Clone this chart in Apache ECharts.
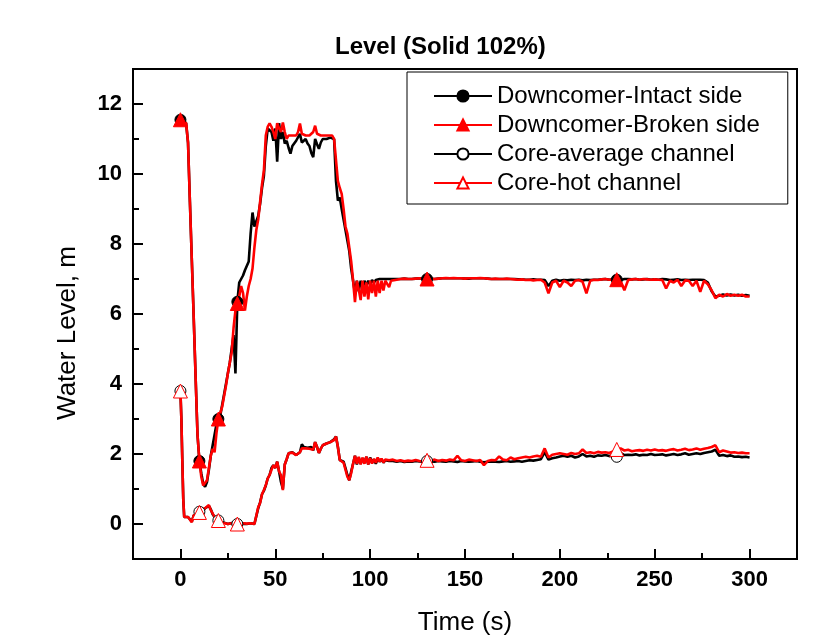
<!DOCTYPE html>
<html><head><meta charset="utf-8">
<script src="https://cdn.jsdelivr.net/npm/echarts@6/dist/echarts.min.js"></script>
<style>html,body{margin:0;padding:0;background:#fff}#c{width:836px;height:644px}</style>
</head><body><div id="c"></div>
<script>
const time = [0,0.5,1,1.5,2,
3,4,5,6,7,8,9,10,11,12,
13,14,15,16,17,18,19,20,21,22,
23,24,25,26,27,28,29,30,31,32,
33,34,35,36,37,38,39,40,41,42,
43,44,45,46,47,48,49,50,51,52,
53,54,55,56,57,58,59,60,61,62,
63,64,65,66,67,68,69,70,71,72,
73,74,75,76,77,78,79,80,81,82,
83,84,85,86,87,88,89,90,91,92,
93,94,95,96,97,98,99,100,101,102,
103,104,105,106,107,108,109,110,111,112,
114,116,118,120,122,124,126,128,130,132,
134,136,138,140,142,144,146,148,150,152,
154,156,158,160,162,164,166,168,170,172,
174,176,178,180,182,184,186,188,190,192,
194,196,198,200,202,204,206,208,210,212,
214,216,218,220,222,224,226,228,230,232,
234,236,238,240,242,244,246,248,250,252,
254,256,258,260,262,264,266,268,270,272,
274,276,278,280,282,284,286,288,290,292,
294,296,298,300];

const downcomerIntact = [11.55,11.56,11.55,11.52,11.5,
11.45,10.9,9.2,7.55,5.9,4.2,2.55,1.8,1.45,1.15,
1.06,1.2,1.55,1.95,2.25,2.55,2.85,3.0,3.1,3.4,
3.7,4.0,4.3,4.6,5.0,5.4,4.3,6.35,6.9,7.0,
7.1,7.25,7.3,7.5,8.3,8.9,8.5,8.45,8.8,9.15,
9.6,9.95,10.8,11.3,11.35,11.2,10.95,11.3,10.35,11.45,
11.0,11.2,10.87,10.95,10.75,10.58,10.8,10.8,10.95,11.0,
11.15,10.9,10.85,11.0,10.87,10.8,10.6,10.48,11.0,10.85,
10.72,10.9,11.0,11.02,11.0,11.0,11.04,11.04,11.0,9.8,
9.24,9.33,9.0,8.7,8.4,8.1,7.8,7.3,6.95,6.6,
6.95,6.65,6.95,6.75,6.95,6.8,6.95,6.85,6.97,6.9,
6.97,6.95,7.0,6.96,7.0,6.98,7.0,6.97,7.0,7.0,
7.0,7.0,7.01,7.0,7.0,7.01,7.02,7.0,7.0,7.0,
7.0,7.01,7.02,7.02,7.02,7.02,7.02,7.02,7.01,7.01,
7.02,7.02,7.02,7.02,7.01,7.0,7.0,7.0,7.0,7.0,
7.0,7.0,6.99,6.99,6.98,6.98,6.99,6.98,6.98,6.97,
6.8,6.95,6.98,6.95,6.97,6.96,6.98,6.97,6.98,6.96,
6.98,6.97,6.98,6.98,6.99,7.0,6.98,6.99,6.98,6.97,
7.0,7.0,6.99,7.0,6.98,6.99,7.0,6.98,6.99,6.98,
7.0,6.99,6.97,6.98,6.99,6.97,6.98,6.97,6.98,6.98,
6.98,6.97,6.9,6.65,6.5,6.52,6.56,6.53,6.56,6.53,
6.55,6.52,6.54,6.52];

const downcomerBroken = [11.55,11.56,11.55,11.52,11.5,
11.45,10.9,9.2,7.55,5.9,4.2,2.55,1.8,1.35,1.1,
1.06,1.25,1.6,1.95,2.15,2.05,2.6,3.0,3.05,3.35,
3.65,3.95,4.3,4.6,4.9,5.6,6.1,6.3,6.5,6.8,
6.6,6.1,6.5,6.8,7.0,7.3,7.9,8.4,8.7,9.2,
9.7,10.1,11.1,11.35,11.45,11.35,11.2,11.0,11.45,11.3,
11.2,11.47,11.2,11.0,11.1,11.05,11.1,11.1,11.1,11.2,
11.44,11.15,11.1,11.1,11.15,11.1,11.1,11.2,11.38,11.15,
11.1,11.1,11.1,11.1,11.12,11.1,11.1,11.1,11.0,10.4,
9.8,9.6,9.43,9.0,8.5,8.3,7.9,7.5,6.96,6.34,
6.95,6.7,6.4,6.95,6.5,6.9,6.42,6.95,6.6,6.95,
6.5,6.95,6.6,6.95,6.67,6.95,6.98,6.77,6.95,7.0,
6.98,7.0,7.01,7.0,7.0,7.01,7.02,7.0,7.0,7.01,
7.0,7.01,7.02,7.03,7.02,7.03,7.02,7.02,7.01,7.02,
7.02,7.02,7.03,7.02,7.01,7.0,7.01,7.0,7.0,7.01,
7.0,6.99,6.98,6.99,6.97,6.98,6.96,6.97,6.98,6.9,
6.59,6.9,6.95,6.77,6.95,6.9,6.8,6.95,6.97,6.92,
6.59,6.95,6.98,6.97,6.99,7.0,6.98,6.99,6.98,6.95,
6.68,6.97,6.99,7.0,6.98,7.0,6.99,6.98,6.99,6.98,
6.97,6.73,6.95,6.9,6.98,6.8,6.96,6.95,6.8,6.95,
6.63,6.95,6.85,6.68,6.45,6.55,6.5,6.57,6.52,6.55,
6.52,6.55,6.5,6.5];

const coreAverage = [3.8,3.0,1.8,0.7,0.2,
0.25,0.2,0.18,0.07,0.25,0.3,0.25,0.35,0.4,0.38,
0.45,0.45,0.52,0.42,0.28,0.2,0.12,0.1,0.08,0.05,
0.04,0.02,0.0,0.02,0.03,0.01,0.0,0.0,-0.02,0.0,
0.01,0.02,0.0,0.0,0.02,0.01,0.0,0.05,0.45,0.62,
0.85,0.95,1.1,1.3,1.4,1.6,1.68,1.6,1.78,1.5,
1.2,1.0,1.7,1.85,2.02,2.0,2.05,2.06,1.97,1.95,
2.05,2.28,2.2,2.16,2.18,2.15,2.2,2.1,2.34,2.2,
2.03,2.15,2.25,2.22,2.3,2.32,2.34,2.38,2.42,2.5,
2.2,1.83,1.8,1.78,1.6,1.4,1.25,1.5,1.72,1.95,
1.7,1.9,1.72,1.88,1.75,1.92,1.7,1.9,1.75,1.85,
1.72,1.88,1.78,1.85,1.75,1.82,1.78,1.8,1.77,1.8,
1.78,1.8,1.77,1.79,1.78,1.8,1.79,1.78,1.8,1.79,
1.78,1.8,1.79,1.78,1.8,1.79,1.77,1.8,1.79,1.78,
1.79,1.8,1.78,1.76,1.78,1.79,1.78,1.77,1.79,1.8,
1.78,1.79,1.8,1.78,1.8,1.82,1.81,1.83,1.85,2.05,
1.84,1.88,1.9,1.93,1.95,1.92,1.95,1.9,1.93,2.0,
1.93,1.95,1.92,1.96,1.95,1.97,1.94,1.96,1.92,2.03,
1.97,1.98,1.97,1.99,1.96,1.98,1.97,2.0,1.97,1.98,
1.99,1.96,1.98,2.0,1.97,1.99,2.02,1.98,2.0,2.02,
2.0,2.03,2.05,2.07,2.12,1.95,1.97,1.94,1.96,1.92,
1.93,1.91,1.92,1.9];

const coreHot = [3.8,3.0,1.8,0.7,0.2,
0.25,0.2,0.15,0.05,0.25,0.3,0.28,0.33,0.42,0.4,
0.45,0.48,0.54,0.4,0.3,0.2,0.14,0.1,0.06,0.05,
0.03,0.02,0.0,0.03,0.02,0.0,0.01,0.0,0.0,0.0,
0.02,0.0,0.01,0.0,0.02,0.0,0.0,0.05,0.48,0.6,
0.85,0.97,1.11,1.3,1.4,1.55,1.68,1.6,1.78,1.5,
1.4,0.97,1.7,1.85,2.02,2.0,2.04,2.06,1.97,1.95,
2.05,2.16,2.2,2.16,2.18,2.15,2.2,2.12,2.34,2.2,
2.03,2.15,2.25,2.22,2.3,2.3,2.34,2.36,2.4,2.5,
2.2,1.83,1.8,1.75,1.55,1.35,1.25,1.45,1.72,1.95,
1.72,1.92,1.7,1.9,1.72,1.93,1.7,1.88,1.73,1.86,
1.75,1.9,1.78,1.87,1.76,1.84,1.79,1.82,1.78,1.84,
1.8,1.82,1.79,1.81,1.8,1.83,1.8,1.79,1.82,1.81,
1.84,1.8,1.83,1.81,1.84,1.82,1.95,1.82,1.8,1.84,
1.82,1.8,1.83,1.68,1.8,1.83,1.82,1.93,1.84,1.82,
1.9,1.85,1.88,1.9,1.92,1.9,1.93,1.95,1.92,2.16,
1.9,1.98,2.0,2.02,2.0,1.98,2.03,2.0,2.02,2.13,
2.03,2.05,2.02,2.06,2.04,2.05,2.03,2.07,2.13,2.16,
2.1,2.12,2.08,2.1,2.11,2.09,2.12,2.1,2.13,2.1,
2.11,2.09,2.12,2.14,2.1,2.12,2.15,2.11,2.13,2.16,
2.12,2.15,2.17,2.2,2.25,2.05,2.1,2.07,2.04,2.05,
2.03,2.04,2.02,2.02];

const seriesNames = ['Downcomer-Intact side','Downcomer-Broken side','Core-average channel','Core-hot channel'];
const markerTimes = [0,10,20,30,130,230];
const xMajorTicks = [0,50,100,150,200,250,300];
const xMinorTicks = [25,75,125,175,225,275];
const yMajorTicks = [0,2,4,6,8,10,12];
const yMinorTicks = [1,3,5,7,9,11];

const FONT = "'Liberation Sans', Arial, sans-serif";

function build(vals) {
  return time.map((t, i) => markerTimes.includes(t)
    ? { value: [t, vals[i]] }
    : { value: [t, vals[i]], symbol: 'none' });
}

function mkSeries(name, vals, color, symbol, size, filled) {
  return {
    name: name, type: 'line', data: build(vals),
    symbol: symbol, symbolSize: size, showSymbol: true, showAllSymbol: true,
    color: color,
    lineStyle: { color: color, width: 2.6 },
    itemStyle: { color: filled ? color : '#fff', borderColor: color, borderWidth: 1, opacity: 1 },
    emphasis: { disabled: true },
    animation: false,
    xAxisIndex: 0, yAxisIndex: 0
  };
}

const chart = echarts.init(document.getElementById('c'), null, { renderer: 'canvas' });
const tickLine = { color: '#000', width: 2 };
chart.setOption({
  backgroundColor: '#fff',
  animation: false,
  title: {
    text: 'Level (Solid 102%)', left: 335, top: 35, padding: 0,
    textStyle: { fontFamily: FONT, fontSize: 24, fontWeight: 'bold', color: '#000' }
  },
  grid: { left: 133, right: 39, top: 69, bottom: 85, show: true, borderColor: '#000', borderWidth: 2, backgroundColor: 'transparent' },
  legend: {
    data: seriesNames, orient: 'vertical', left: 407, top: 72,
    padding: [12, 28, 9, 26], itemGap: 5, itemWidth: 58, itemHeight: 14,
    borderColor: '#000', borderWidth: 1, backgroundColor: '#fff',
    textStyle: { fontFamily: FONT, fontSize: 24, color: '#000' },
    selectedMode: false
  },
  xAxis: [
    {
      type: 'value', min: -25, max: 325, position: 'bottom',
      axisLine: { show: false, onZero: false }, splitLine: { show: false },
      axisTick: { show: true, inside: true, length: 10, customValues: xMajorTicks, lineStyle: tickLine },
      axisLabel: { customValues: xMajorTicks, fontFamily: FONT, fontSize: 22, fontWeight: 'bold', color: '#000', margin: 10 },
      name: 'Time (s)', nameLocation: 'middle', nameGap: 51,
      nameTextStyle: { fontFamily: FONT, fontSize: 26, color: '#000' }
    },
    {
      type: 'value', min: -25, max: 325, position: 'bottom',
      axisLine: { show: false, onZero: false }, splitLine: { show: false },
      axisTick: { show: true, inside: true, length: 6, customValues: xMinorTicks, lineStyle: tickLine },
      axisLabel: { show: false }
    }
  ],
  yAxis: [
    {
      type: 'value', min: -1, max: 13, position: 'left',
      axisLine: { show: false, onZero: false }, splitLine: { show: false },
      axisTick: { show: true, inside: true, length: 10, customValues: yMajorTicks, lineStyle: tickLine },
      axisLabel: { customValues: yMajorTicks, fontFamily: FONT, fontSize: 22, fontWeight: 'bold', color: '#000', margin: 11 },
      name: 'Water Level, m', nameLocation: 'middle', nameGap: 52,
      nameTextStyle: { fontFamily: FONT, fontSize: 26, color: '#000', padding: [0, 38, 0, 0] }
    },
    {
      type: 'value', min: -1, max: 13, position: 'left',
      axisLine: { show: false, onZero: false }, splitLine: { show: false },
      axisTick: { show: true, inside: true, length: 6, customValues: yMinorTicks, lineStyle: tickLine },
      axisLabel: { show: false }
    }
  ],
  series: [
    mkSeries(seriesNames[0], downcomerIntact, '#000000', 'circle', 11, true),
    mkSeries(seriesNames[1], downcomerBroken, '#ff0000', 'triangle', 14, true),
    mkSeries(seriesNames[2], coreAverage, '#000000', 'circle', 11, false),
    mkSeries(seriesNames[3], coreHot, '#ff0000', 'triangle', 14, false)
  ]
});
</script>
</body></html>
